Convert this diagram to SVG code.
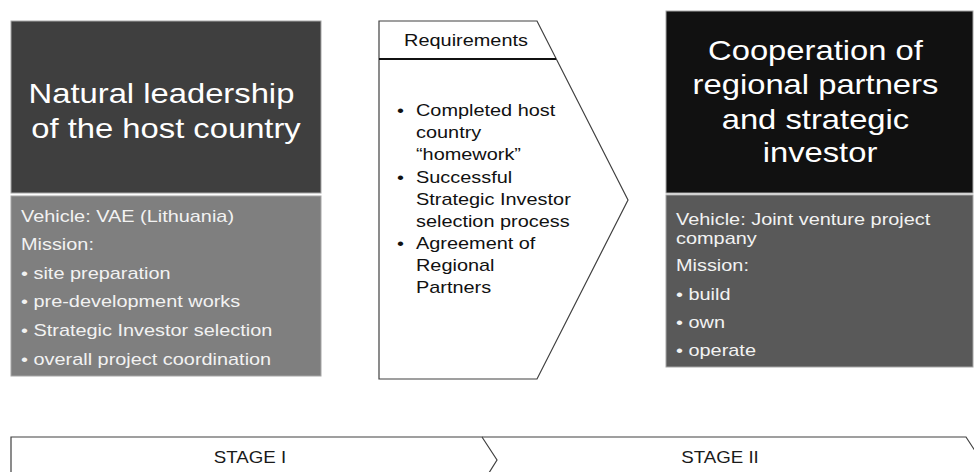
<svg xmlns="http://www.w3.org/2000/svg" width="974" height="472" viewBox="0 0 974 472">
  <style>
    text { font-family: "Liberation Sans", Arial, sans-serif; }
    .title { font-size: 28px; fill: #ffffff; text-anchor: middle; }
    .list { font-size: 17px; }
    .light { fill: #f2f2f2; }
    .dark { fill: #111111; }
    .stage { font-size: 16px; fill: #1a1a1a; text-anchor: middle; }
    .edge { stroke: #a6a6a6; stroke-width: 1; }
    .outline { fill: #ffffff; stroke: #404040; stroke-width: 1.2; }
  </style>

  <!-- Stage I: host country leadership -->
  <g id="host-country">
    <rect x="11" y="21" width="310" height="172" fill="#3f3f3f" class="edge"/>
    <g transform="translate(166 0) scale(1.17 1)">
      <text class="title">
        <tspan x="0" y="103">Natural leadership</tspan>
        <tspan x="0" y="138">of the host country</tspan>
      </text>
    </g>
    <rect x="11" y="196" width="310" height="180" fill="#7f7f7f" class="edge"/>
    <g transform="translate(21 0) scale(1.17 1)">
      <text class="list light">
        <tspan x="0" y="222">Vehicle: VAE (Lithuania)</tspan>
        <tspan x="0" y="250">Mission:</tspan>
        <tspan x="0" y="279">• site preparation</tspan>
        <tspan x="0" y="307">• pre-development works</tspan>
        <tspan x="0" y="336">• Strategic Investor selection</tspan>
        <tspan x="0" y="365">• overall project coordination</tspan>
      </text>
    </g>
  </g>

  <!-- Requirements chevron between the stages -->
  <g id="requirements">
    <path d="M379 21 H537 L628 200 L537 379 H379 Z" class="outline"/>
    <line x1="379" y1="59" x2="556" y2="59" stroke="#111111" stroke-width="2"/>
    <g transform="translate(466 0) scale(1.17 1)">
      <text class="list dark" text-anchor="middle"><tspan x="0" y="46">Requirements</tspan></text>
    </g>
    <g transform="translate(397 0) scale(1.17 1)">
      <text class="list dark">
        <tspan x="0" y="116">•</tspan>
        <tspan x="0" y="183">•</tspan>
        <tspan x="0" y="249">•</tspan>
      </text>
    </g>
    <g transform="translate(416 0) scale(1.17 1)">
      <text class="list dark">
        <tspan x="0" y="116">Completed host</tspan>
        <tspan x="0" y="138">country</tspan>
        <tspan x="0" y="160">“homework”</tspan>
        <tspan x="0" y="183">Successful</tspan>
        <tspan x="0" y="205">Strategic Investor</tspan>
        <tspan x="0" y="227">selection process</tspan>
        <tspan x="0" y="249">Agreement of</tspan>
        <tspan x="0" y="271">Regional</tspan>
        <tspan x="0" y="293">Partners</tspan>
      </text>
    </g>
  </g>

  <!-- Stage II: regional cooperation -->
  <g id="regional-cooperation">
    <rect x="666" y="11" width="307" height="182" fill="#111111" class="edge"/>
    <g transform="translate(820 0) scale(1.17 1)">
      <text class="title">
        <tspan x="0" y="60">Cooperation of</tspan>
        <tspan x="0" y="94">regional partners</tspan>
        <tspan x="0" y="129">and strategic</tspan>
        <tspan x="0" y="162">investor</tspan>
      </text>
    </g>
    <rect x="666" y="195" width="307" height="172" fill="#595959" class="edge"/>
    <g transform="translate(676 0) scale(1.17 1)">
      <text class="list light">
        <tspan x="0" y="225">Vehicle: Joint venture project</tspan>
        <tspan x="0" y="244">company</tspan>
        <tspan x="0" y="271">Mission:</tspan>
        <tspan x="0" y="300">• build</tspan>
        <tspan x="0" y="328">• own</tspan>
        <tspan x="0" y="356">• operate</tspan>
      </text>
    </g>
  </g>

  <!-- Timeline chevrons -->
  <g id="stage-1">
    <path d="M11 480 V437 H482 L497 460 L482 484" class="outline"/>
    <g transform="translate(250 0) scale(1.17 1)">
      <text class="stage"><tspan x="0" y="463">STAGE I</tspan></text>
    </g>
  </g>
  <g id="stage-2">
    <path d="M482 437 H966 L981 460" fill="none" stroke="#404040" stroke-width="1.2"/>
    <g transform="translate(720 0) scale(1.17 1)">
      <text class="stage"><tspan x="0" y="463">STAGE II</tspan></text>
    </g>
  </g>
</svg>
